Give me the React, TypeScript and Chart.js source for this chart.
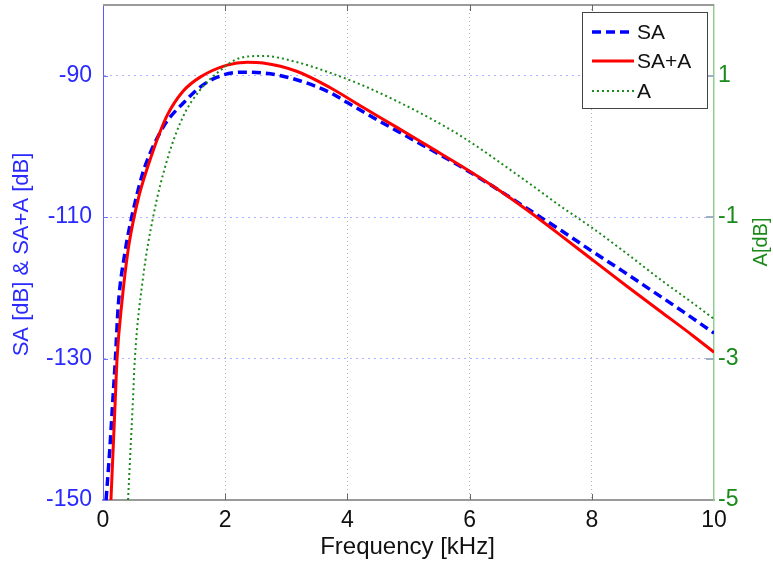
import React, { useEffect, useRef } from 'react';
import { Chart, registerables } from 'chart.js';

Chart.register(...registerables);

// ---- data ----
const xTicks = [0, 2, 4, 6, 8, 10];
const leftTicks = [-150, -130, -110, -90];
const rightTicks = [-5, -3, -1, 1];

const saFreq = [0.05, 0.11, 0.16, 0.2, 0.25, 0.36, 0.47, 0.65, 0.77, 0.9, 1.05, 1.31, 1.59, 1.87, 2.24, 2.62, 3.18, 3.72, 4.0, 4.5, 5.0, 5.5, 6.0, 6.5, 7.0, 7.5, 8.0, 8.5, 9.0, 9.5, 10];
const saValues = [-150, -143, -136, -130.5, -122.5, -115, -110, -103.8, -101, -98.6, -96.4, -93.9, -91.6, -90.2, -89.5, -89.6, -90.6, -92.4, -93.8, -96.3, -98.7, -101.1, -103.6, -106.3, -109.1, -111.9, -114.8, -117.6, -120.5, -123.4, -126.4];

const saaFreq = [0.13, 0.17, 0.2, 0.23, 0.31, 0.41, 0.49, 0.58, 0.69, 0.77, 0.9, 1.05, 1.31, 1.59, 2.03, 2.36, 2.62, 3.18, 3.72, 4.26, 4.81, 5.35, 5.89, 6.38, 6.94, 7.48, 8.02, 8.58, 9.12, 9.66, 10];
const saaValues = [-150, -142, -136, -130, -122, -114.7, -110.8, -107.3, -104.0, -101.9, -98.7, -95.6, -92.2, -90.2, -88.5, -88.1, -88.2, -89.4, -91.7, -94.5, -97.3, -100.1, -102.9, -105.6, -109.0, -112.5, -116.1, -119.8, -123.3, -126.8, -129.1];

const aFreq = [0.41, 0.45, 0.49, 0.52, 0.65, 0.82, 1.05, 1.31, 1.59, 1.87, 2.24, 2.62, 3.18, 3.72, 4.26, 4.81, 5.35, 5.89, 6.94, 7.48, 8.02, 8.58, 9.12, 9.66, 10];
const aValues = [-5, -4.29, -3.59, -3.02, -1.89, -1.0, -0.19, 0.42, 0.8, 1.04, 1.25, 1.28, 1.19, 1.04, 0.86, 0.64, 0.4, 0.13, -0.5, -0.84, -1.16, -1.52, -1.88, -2.22, -2.44];

const FONT = '"Liberation Sans", Arial, sans-serif';

const overlay = {
  id: 'overlay',
  afterDraw(chart: any) {
    const { ctx, chartArea } = chart;
    const { left, right, top, bottom } = chartArea;
    const xs = chart.scales.x;
    const ys = chart.scales.y;
    const ys2 = chart.scales.y2;
    ctx.save();
    // top border
    ctx.strokeStyle = '#9a9a9a';
    ctx.lineWidth = 2;
    ctx.beginPath();
    ctx.moveTo(left, top);
    ctx.lineTo(right, top);
    ctx.stroke();
    // inward ticks
    ctx.lineWidth = 1;
    ctx.strokeStyle = '#666';
    xTicks.forEach((v) => {
      if (v === xTicks[0] || v === xTicks[xTicks.length - 1]) return;
      const px = Math.round(xs.getPixelForValue(v)) + 0.5;
      ctx.beginPath();
      ctx.moveTo(px, top);
      ctx.lineTo(px, top + 6);
      ctx.moveTo(px, bottom);
      ctx.lineTo(px, bottom - 6);
      ctx.stroke();
    });
    ctx.strokeStyle = '#7070ff';
    leftTicks.forEach((v) => {
      const py = Math.round(ys.getPixelForValue(v)) + 0.5;
      ctx.beginPath();
      ctx.moveTo(left, py);
      ctx.lineTo(left + 5, py);
      ctx.stroke();
    });
    ctx.strokeStyle = '#9fb0c0';
    ctx.lineWidth = 2;
    rightTicks.forEach((v) => {
      if (v === rightTicks[0]) return;
      const py = Math.round(ys2.getPixelForValue(v));
      ctx.beginPath();
      ctx.moveTo(right, py);
      ctx.lineTo(right - 8, py);
      ctx.stroke();
    });

    // axis titles
    ctx.textAlign = 'center';
    ctx.textBaseline = 'middle';
    ctx.fillStyle = '#111';
    ctx.font = `24px ${FONT}`;
    ctx.fillText('Frequency [kHz]', (left + right) / 2 - 1, 547);

    ctx.save();
    ctx.translate(22, (top + bottom) / 2 + 2);
    ctx.rotate(-Math.PI / 2);
    ctx.fillStyle = '#2a2aff';
    ctx.font = `22px ${FONT}`;
    ctx.fillText('SA [dB] & SA+A [dB]', 0, 0);
    ctx.restore();

    ctx.save();
    ctx.translate(761, 242);
    ctx.rotate(-Math.PI / 2);
    ctx.fillStyle = '#1a8a1a';
    ctx.font = `20px ${FONT}`;
    ctx.fillText('A[dB]', 0, 0);
    ctx.restore();

    // legend
    const bx = 582, by = 12, bw = 125, bh = 96;
    ctx.fillStyle = '#fff';
    ctx.fillRect(bx, by, bw, bh);
    ctx.strokeStyle = '#444';
    ctx.lineWidth = 1;
    ctx.strokeRect(bx + 0.5, by + 0.5, bw, bh);
    const rows = [32, 61, 91];
    ctx.textAlign = 'left';
    ctx.font = `21px ${FONT}`;
    chart.data.datasets.forEach((ds: any, i: number) => {
      const y = rows[i];
      ctx.save();
      ctx.strokeStyle = ds.borderColor;
      ctx.lineWidth = ds.borderWidth;
      ctx.setLineDash(ds.borderDash || []);
      ctx.beginPath();
      ctx.moveTo(592, y);
      ctx.lineTo(634, y);
      ctx.stroke();
      ctx.restore();
      ctx.fillStyle = '#111';
      ctx.fillText(ds.label, 637, y + 1);
    });
    ctx.restore();
  },
};

export default function App() {
  const ref = useRef<HTMLCanvasElement>(null);
  useEffect(() => {
    const canvas = ref.current!;
    const pts = (xs: number[], ys: number[]) => xs.map((x, i) => ({ x, y: ys[i] }));
    const chart = new Chart(canvas, {
      type: 'line',
      data: {
        datasets: [
          {
            label: 'SA',
            data: pts(saFreq, saValues),
            yAxisID: 'y',
            borderColor: '#0000ff',
            borderWidth: 3.5,
            borderDash: [9, 5],
            pointRadius: 0,
            cubicInterpolationMode: 'monotone',
            fill: false,
            order: 3,
          },
          {
            label: 'SA+A',
            data: pts(saaFreq, saaValues),
            yAxisID: 'y',
            borderColor: '#ff0000',
            borderWidth: 3,
            pointRadius: 0,
            cubicInterpolationMode: 'monotone',
            fill: false,
            order: 2,
          },
          {
            label: 'A',
            data: pts(aFreq, aValues),
            yAxisID: 'y2',
            borderColor: '#1a8a1a',
            borderWidth: 2,
            borderDash: [2, 3],
            pointRadius: 0,
            cubicInterpolationMode: 'monotone',
            fill: false,
            order: 1,
          },
        ] as any,
      },
      options: {
        responsive: false,
        animation: false,
        layout: { padding: { top: 5, left: 0, right: 0, bottom: 0 } },
        plugins: { legend: { display: false }, tooltip: { enabled: false } },
        scales: {
          x: {
            type: 'linear',
            position: 'bottom',
            min: 0,
            max: 10,
            afterBuildTicks: (s: any) => { s.ticks = xTicks.map((v) => ({ value: v })); },
            afterFit: (s: any) => { s.height = 63; s.paddingLeft = 0; s.paddingRight = 0; },
            ticks: {
              color: '#111',
              font: { size: 23, family: FONT },
              padding: 7,
              maxRotation: 0,
              autoSkip: false,
              callback: (v: any) => String(v),
            },
            grid: {
              drawTicks: false,
              color: (c: any) => (c.tick && (c.tick.value === 0 || c.tick.value === 10) ? 'rgba(0,0,0,0)' : '#b5b5b5'),
              lineWidth: 1,
            },
            border: { color: '#9a9a9a', width: 2, dash: [1, 3] },
          },
          y: {
            type: 'linear',
            position: 'left',
            min: -150,
            max: -80,
            afterBuildTicks: (s: any) => { s.ticks = leftTicks.map((v) => ({ value: v })); },
            afterFit: (s: any) => { s.width = 103; s.paddingTop = 0; s.paddingBottom = 0; },
            ticks: {
              color: '#2a2aff',
              font: { size: 23, family: FONT },
              padding: 11,
              callback: (v: any) => String(v),
            },
            grid: {
              drawTicks: false,
              color: (c: any) => (c.tick && c.tick.value === -150 ? 'rgba(0,0,0,0)' : '#aeb2ff'),
              lineWidth: 1,
            },
            border: { color: '#5a5aff', width: 1, dash: [2, 4] },
          },
          y2: {
            type: 'linear',
            position: 'right',
            min: -5,
            max: 2,
            afterBuildTicks: (s: any) => { s.ticks = rightTicks.map((v) => ({ value: v })); },
            afterFit: (s: any) => { s.width = 59; s.paddingTop = 0; s.paddingBottom = 0; },
            ticks: {
              color: '#1a8a1a',
              font: { size: 23, family: FONT },
              padding: 4,
              callback: (v: any) => String(v),
            },
            grid: { drawTicks: false, drawOnChartArea: false },
            border: { color: '#8fcf8f', width: 1.5 },
          },
        },
      } as any,
      plugins: [overlay],
    });
    return () => chart.destroy();
  }, []);
  return (
    <div style={{ position: 'absolute', left: 0, top: 0, width: 773, height: 563, background: '#fff' }}>
      <canvas ref={ref} width={773} height={563} style={{ display: 'block' }} />
    </div>
  );
}
